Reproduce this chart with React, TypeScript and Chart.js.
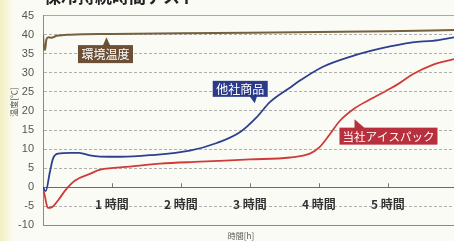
import React, { useEffect, useRef } from 'react';
import { Chart, registerables } from 'chart.js';

Chart.register(...registerables);

// ---- data ----
const envTimes = [0, 0.015, 0.03, 0.05, 0.08, 0.12, 0.2, 0.4, 1, 2, 3, 4, 5, 5.96];
const envTemps = [40, 36.5, 36, 38.8, 39.3, 39.2, 39.7, 40, 40.2, 40.4, 40.5, 40.7, 40.9, 41.2];

const otherTimes = [0, 0.04, 0.1, 0.145, 0.22, 0.39, 0.52, 0.6, 0.68, 0.83, 1.12, 1.55, 2.13, 2.52, 2.86, 3.1, 3.29, 3.58, 3.72, 4.06, 4.45, 4.9, 5.36, 5.65, 5.96];
const otherTemps = [0, -1, 4, 7.5, 8.8, 9.0, 9.0, 8.75, 8.35, 8.05, 8.0, 8.4, 9.6, 11.6, 14.5, 18.4, 22.3, 26.1, 27.9, 31.6, 34.2, 36.4, 38.0, 38.4, 39.3];

const oursTimes = [0, 0.03, 0.07, 0.13, 0.22, 0.32, 0.46, 0.68, 0.83, 1.26, 1.7, 2.28, 3.0, 3.58, 3.87, 4.01, 4.16, 4.3, 4.52, 4.74, 5.03, 5.17, 5.36, 5.65, 5.96];
const oursTemps = [0, -2.6, -5.4, -5.2, -3.4, -0.9, 1.7, 3.5, 4.6, 5.4, 6.2, 6.7, 7.3, 7.8, 8.8, 10.5, 13.9, 17.3, 20.7, 23.0, 25.8, 27.3, 29.6, 32.1, 33.6];

const seriesNames = ['環境温度', '他社商品', '当社アイスパック'];
const xTickHours = [1, 2, 3, 4, 5];
const xTickSuffix = ' 時間';
const xTitle = '時間[h]';
const yTitle = '温度[℃]';
const chartTitle = '保冷持続時間テスト';

const toPoints = (ts: number[], vs: number[]) => ts.map((t, i) => ({ x: t, y: vs[i] }));

// label callouts (anchor in data units, shape offsets in px)
const callouts = [
  { text: seriesNames[0], t: 0.906, v: 34.9, w: 55, h: 18, bg: '#6b4f36', font: 12, edge: -1, base: [-3, 5], tip: [1, -17] },
  { text: seriesNames[1], t: 2.86, v: 25.8, w: 55, h: 16, bg: '#2b3b8a', font: 12, edge: 1, base: [9, 17], tip: [14.5, 14.5] },
  { text: seriesNames[2], t: 5.01, v: 13.4, w: 98, h: 17, bg: '#b8303e', font: 11.5, edge: -1, base: [-34, -23], tip: [-34, -17] },
];

const decorPlugin = {
  id: 'decor',
  beforeDraw(chart: any) {
    const { ctx, width, height } = chart;
    ctx.save();
    ctx.fillStyle = '#fbfbf5';
    ctx.fillRect(0, 0, width, height);
    const g = ctx.createLinearGradient(0, 0, 14, 0);
    g.addColorStop(0, 'rgba(240,236,180,0.8)');
    g.addColorStop(1, 'rgba(240,236,180,0)');
    ctx.fillStyle = g;
    ctx.fillRect(0, 0, 14, height);
    ctx.restore();
  },
  afterDraw(chart: any) {
    const { ctx, scales } = chart;
    const xs = scales.x, ys = scales.y;
    ctx.save();
    // x tick marks (upward from 0 line)
    const y0 = ys.getPixelForValue(0);
    ctx.strokeStyle = '#777';
    ctx.lineWidth = 1;
    xTickHours.forEach((h) => {
      const px = Math.round(xs.getPixelForValue(h)) + 0.5;
      ctx.beginPath();
      ctx.moveTo(px, y0);
      ctx.lineTo(px, y0 - 4);
      ctx.stroke();
    });
    // title (clipped at the top)
    ctx.fillStyle = '#222';
    ctx.font = 'bold 17px "Noto Sans CJK JP"';
    ctx.textAlign = 'left';
    ctx.textBaseline = 'alphabetic';
    ctx.fillText(chartTitle, 44, 3);
    // axis titles
    ctx.fillStyle = '#555';
    ctx.font = '8px "Noto Sans CJK JP"';
    ctx.textAlign = 'center';
    ctx.textBaseline = 'middle';
    ctx.fillText(xTitle, 241, 236);
    ctx.save();
    ctx.translate(14, 102);
    ctx.rotate(-Math.PI / 2);
    ctx.fillText(yTitle, 0, 0);
    ctx.restore();
    // callouts
    callouts.forEach((c) => {
      const cx = xs.getPixelForValue(c.t);
      const cy = ys.getPixelForValue(c.v);
      ctx.fillStyle = c.bg;
      ctx.fillRect(cx - c.w / 2, cy - c.h / 2, c.w, c.h);
      const ey = cy + (c.edge * c.h) / 2;
      ctx.beginPath();
      ctx.moveTo(cx + c.base[0], ey - c.edge);
      ctx.lineTo(cx + c.base[1], ey - c.edge);
      ctx.lineTo(cx + c.tip[0], cy + c.tip[1]);
      ctx.closePath();
      ctx.fill();
      ctx.fillStyle = '#fff';
      ctx.font = `${c.font}px "Noto Sans CJK JP"`;
      ctx.textAlign = 'center';
      ctx.textBaseline = 'middle';
      ctx.fillText(c.text, cx, cy + 0.5);
    });
    ctx.restore();
  },
};

export default function App() {
  const ref = useRef<HTMLCanvasElement>(null);
  useEffect(() => {
    if (!ref.current) return;
    const chart = new Chart(ref.current, {
      type: 'line',
      data: {
        datasets: [
          {
            label: seriesNames[0],
            data: toPoints(envTimes, envTemps),
            borderColor: '#74613e',
            borderWidth: 2,
            pointRadius: 0,
            cubicInterpolationMode: 'monotone',
          },
          {
            label: seriesNames[1],
            data: toPoints(otherTimes, otherTemps),
            borderColor: '#2e3f8e',
            borderWidth: 1.8,
            pointRadius: 0,
            cubicInterpolationMode: 'monotone',
          },
          {
            label: seriesNames[2],
            data: toPoints(oursTimes, oursTemps),
            borderColor: '#d03b38',
            borderWidth: 1.8,
            pointRadius: 0,
            cubicInterpolationMode: 'monotone',
          },
        ],
      },
      options: {
        responsive: false,
        animation: false,
        layout: { padding: { top: 12.5, bottom: 12, left: 0, right: 0 } },
        plugins: { legend: { display: false }, tooltip: { enabled: false }, title: { display: false } },
        scales: {
          x: {
            type: 'linear',
            min: 0,
            max: 5.96,
            position: { y: 0 } as any,
            grid: { display: false },
            border: { display: false },
            ticks: {
              stepSize: 1,
              includeBounds: false,
              padding: 2,
              color: '#333',
              font: { family: '"Noto Sans CJK JP"', size: 12, weight: 'bold' },
              callback: (v: any) => (xTickHours.includes(Number(v)) ? `${v}${xTickSuffix}` : ''),
            },
          },
          y: {
            type: 'linear',
            min: -10,
            max: 45,
            afterFit: (s: any) => {
              s.width = 43;
            },
            grid: {
              drawTicks: false,
              color: (c: any) => {
                const v = c.tick?.value;
                if (v === 0) return '#6a6a6a';
                if (v === 45) return '#a8a8a8';
                if (v === -10) return '#8a8a8a';
                return '#b0b0b0';
              },
            },
            border: {
              display: true,
              color: '#8a8a8a',
              dash: (c: any) => {
                const v = c.tick?.value;
                if (v === undefined || v === 0 || v === 45 || v === -10) return [];
                return [3, 2];
              },
            } as any,
            ticks: {
              stepSize: 5,
              padding: 9,
              color: '#555',
              font: { family: '"Liberation Sans"', size: 11 },
            },
          },
        },
      },
      plugins: [decorPlugin],
    } as any);
    return () => chart.destroy();
  }, []);
  return (
    <canvas
      ref={ref}
      width={454}
      height={241}
      style={{ position: 'fixed', left: 0, top: 0, width: 454, height: 241 }}
    />
  );
}
